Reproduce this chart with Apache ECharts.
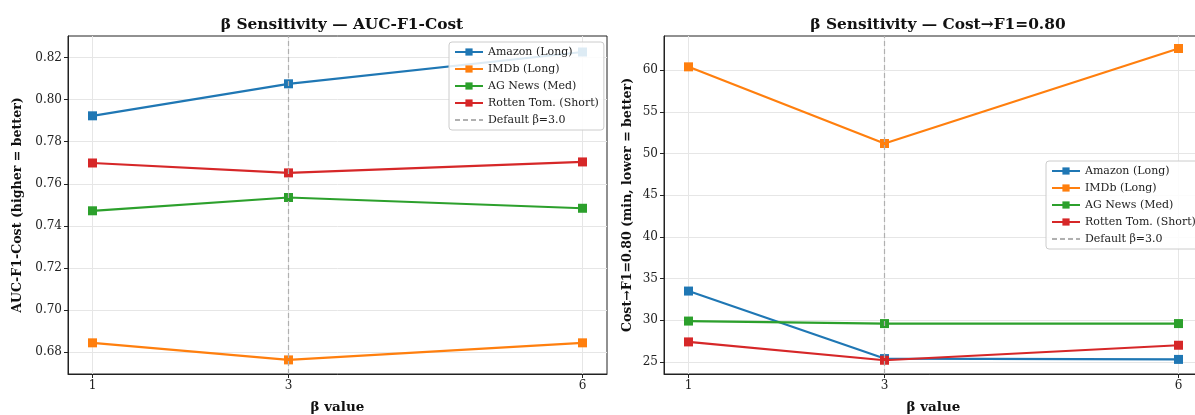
<!DOCTYPE html>
<html>
<head>
<meta charset="utf-8">
<script src="https://cdn.jsdelivr.net/npm/echarts@6/dist/echarts.min.js"></script>
<style>
html,body{margin:0;padding:0;background:#fff;}
#chart{width:1195px;height:415px;}
</style>
</head>
<body>
<div id="chart"></div>
<script>
// ---- data ----
const betas = [1, 3, 6];
const seriesNames = ['Amazon (Long)', 'IMDb (Long)', 'AG News (Med)', 'Rotten Tom. (Short)'];
const colors = ['#1f77b4', '#ff7f0e', '#2ca02c', '#d62728'];
const aucAmazon = [0.7923, 0.8075, 0.8226];
const aucImdb = [0.6845, 0.6764, 0.6845];
const aucAgNews = [0.7472, 0.7535, 0.7484];
const aucRotten = [0.7699, 0.7652, 0.7704];
const costAmazon = [33.5, 25.4, 25.3];
const costImdb = [60.4, 51.2, 62.6];
const costAgNews = [29.9, 29.6, 29.6];
const costRotten = [27.4, 25.2, 27.0];
const defaultBeta = 3;
const defaultName = 'Default β=3.0';
const aucTicks = [0.68, 0.70, 0.72, 0.74, 0.76, 0.78, 0.80, 0.82];
const costTicks = [25, 30, 35, 40, 45, 50, 55, 60];

const FONT = 'DejaVu Serif';
const chart = echarts.init(document.getElementById('chart'), null, {renderer: 'canvas'});

function pairs(vals) { return betas.map((b, i) => [b, vals[i]]); }

function lineSeries(name, vals, color, idx) {
  return {
    type: 'line', name: name, xAxisIndex: idx, yAxisIndex: idx,
    data: pairs(vals), color: color,
    symbol: 'rect', symbolSize: 9,
    lineStyle: {width: 2.2, color: color},
    itemStyle: {color: color},
    emphasis: {disabled: true}, animation: false
  };
}
function defaultSeries(idx) {
  return {
    type: 'line', name: defaultName, xAxisIndex: idx, yAxisIndex: idx,
    data: [], symbol: 'none', color: '#b0b0b0',
    lineStyle: {type: [5, 3], width: 1.2, color: '#b0b0b0'},
    markLine: {
      silent: true, symbol: 'none', animation: false,
      label: {show: false},
      lineStyle: {type: [5, 3], width: 1.2, color: '#b0b0b0'},
      data: [{xAxis: defaultBeta}]
    },
    animation: false
  };
}

function xAxis(idx) {
  return {
    type: 'value', gridIndex: idx, min: 0.75, max: 6.25,
    name: 'β value', nameLocation: 'middle', nameGap: 26,
    nameTextStyle: {fontFamily: FONT, fontWeight: 'bold', fontSize: 13.5, color: '#111'},
    axisLine: {show: true, lineStyle: {color: '#222', width: 1}},
    axisTick: {show: true, length: 4, inside: false, customValues: betas, lineStyle: {color: '#222'}},
    axisLabel: {customValues: betas, fontFamily: FONT, fontSize: 12, color: '#222', margin: 6},
    splitLine: {show: true, lineStyle: {color: '#e6e6e6', width: 1}}
  };
}
function yAxis(idx, name, ticks, min, max, fmt, gap) {
  return {
    type: 'value', gridIndex: idx, min: min, max: max,
    name: name, nameLocation: 'middle', nameGap: gap,
    nameTextStyle: {fontFamily: FONT, fontWeight: 'bold', fontSize: 12.6, color: '#111'},
    axisLine: {show: true, lineStyle: {color: '#222', width: 1}},
    axisTick: {show: true, length: 4, customValues: ticks, lineStyle: {color: '#222'}},
    axisLabel: {customValues: ticks, fontFamily: FONT, fontSize: 12, color: '#222', margin: 6, formatter: fmt},
    splitLine: {show: true, lineStyle: {color: '#e6e6e6', width: 1}}
  };
}
function legend(left, top) {
  return {
    orient: 'vertical', left: left, top: top,
    data: seriesNames.concat([{name: defaultName, itemStyle: {opacity: 0}}]),
    itemWidth: 28, itemHeight: 9, itemGap: 5,
    backgroundColor: 'rgba(255,255,255,0.85)',
    borderColor: '#cccccc', borderWidth: 1, borderRadius: 3,
    padding: [4, 5, 4, 5],
    textStyle: {fontFamily: FONT, fontSize: 11, color: '#222', lineHeight: 12},
    selectedMode: false
  };
}

const aucData = [aucAmazon, aucImdb, aucAgNews, aucRotten];
const costData = [costAmazon, costImdb, costAgNews, costRotten];
const series = [];
aucData.forEach((d, i) => series.push(lineSeries(seriesNames[i], d, colors[i], 0)));
series.push(defaultSeries(0));
costData.forEach((d, i) => series.push(lineSeries(seriesNames[i], d, colors[i], 1)));
series.push(defaultSeries(1));

chart.setOption({
  backgroundColor: '#ffffff',
  animation: false,
  title: [
    {text: 'β Sensitivity — AUC-F1-Cost', left: 337, top: 12, textAlign: 'center',
     textStyle: {fontFamily: FONT, fontWeight: 'bold', fontSize: 15.4, color: '#111'}},
    {text: 'β Sensitivity — Cost→F1=0.80', left: 933, top: 12, textAlign: 'center',
     textStyle: {fontFamily: FONT, fontWeight: 'bold', fontSize: 15.4, color: '#111'}}
  ],
  grid: [
    {left: 68, top: 36, width: 539, height: 338, outerBoundsMode: 'none', containLabel: false,
     show: true, borderColor: '#222', borderWidth: 1, backgroundColor: 'transparent'},
    {left: 664, top: 36, width: 539, height: 338, outerBoundsMode: 'none', containLabel: false,
     show: true, borderColor: '#222', borderWidth: 1, backgroundColor: 'transparent'}
  ],
  xAxis: [xAxis(0), xAxis(1)],
  yAxis: [
    yAxis(0, 'AUC-F1-Cost (higher = better)', aucTicks, 0.6697, 0.8302, v => v.toFixed(2), 44),
    yAxis(1, 'Cost→F1=0.80 (min, lower = better)', costTicks, 23.55, 64.1, v => String(Math.round(v)), 30)
  ],
  legend: [legend(449, 42), legend(1046, 161)],
  series: series
});
</script>
</body>
</html>
